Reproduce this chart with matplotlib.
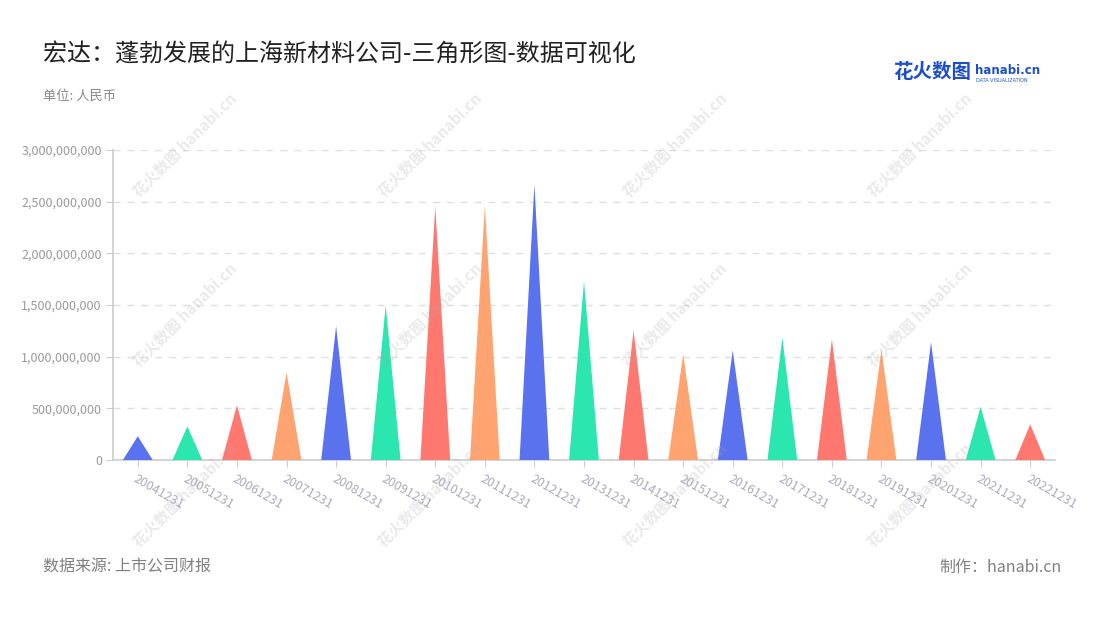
import matplotlib
matplotlib.use('Agg')
import matplotlib.pyplot as plt
from matplotlib.ticker import FuncFormatter
import numpy as np

plt.rcParams['font.family'] = ['Noto Sans CJK SC', 'DejaVu Sans']

# data
years = ['20041231', '20051231', '20061231', '20071231', '20081231', '20091231',
         '20101231', '20111231', '20121231', '20131231', '20141231', '20151231',
         '20161231', '20171231', '20181231', '20191231', '20201231', '20211231',
         '20221231']
values = [0.23e9, 0.325e9, 0.53e9, 0.845e9, 1.295e9, 1.495e9,
          2.455e9, 2.46e9, 2.665e9, 1.73e9, 1.255e9, 1.025e9,
          1.06e9, 1.185e9, 1.17e9, 1.07e9, 1.14e9, 0.515e9,
          0.345e9]
palette = ['#5A72EE', '#2CE6B0', '#FF7870', '#FFA470']

fig = plt.figure(figsize=(11, 6.2), dpi=100)
ax = fig.add_axes([113/1100, 160/620, 942/1100, 310/620])

w = 0.6
for i, v in enumerate(values):
	ax.fill([i - w/2, i, i + w/2], [0, v, 0], color=palette[i % 4], lw=0, zorder=3)

ax.set_xlim(-0.5, len(years) - 0.5)
ax.set_ylim(0, 3e9)
ax.set_yticks(np.arange(0, 3.01e9, 0.5e9))
ax.yaxis.set_major_formatter(FuncFormatter(lambda v, p: '{:,.0f}'.format(v)))
ax.set_xticks(range(len(years)))
ax.set_xticklabels(years, rotation=-30, ha='left', va='top', rotation_mode='anchor')

ax.grid(axis='y', color='#e0e0e0', linestyle=(0, (5, 5)), lw=1)
ax.set_axisbelow(True)
for s in ['top', 'right']:
	ax.spines[s].set_visible(False)
ax.spines['left'].set_color('#cccccc')
ax.spines['bottom'].set_color('#cccccc')
ax.spines['left'].set_linewidth(1.2)
ax.spines['bottom'].set_linewidth(1.2)
ax.tick_params(axis='y', colors='#cccccc', labelcolor='#999999', labelsize=9, length=5, pad=3)
ax.tick_params(axis='x', colors='#cccccc', labelcolor='#aaaabb', labelsize=9, length=5, pad=4)

# watermarks
for wx in [185, 430, 675, 920]:
	for wy in [145, 315, 495]:
		fig.text(wx/1100, 1 - wy/620, '花火数图 hanabi.cn', rotation=45, fontsize=11,
			color='#aaaaaa', alpha=0.25, ha='center', va='center', fontweight='bold', zorder=5)

fig.text(43/1100, 1 - 55/620, '宏达：蓬勃发展的上海新材料公司-三角形图-数据可视化',
	fontsize=17.3, color='#222222', va='center', ha='left')
fig.text(43/1100, 1 - 96/620, '单位: 人民币', fontsize=9.5, color='#888888', va='center', ha='left')
fig.text(43/1100, 1 - 567/620, '数据来源: 上市公司财报', fontsize=11.5, color='#808080', va='center', ha='left')
fig.text(1062/1100, 1 - 567/620, '制作：hanabi.cn', fontsize=11.5, color='#808080', va='center', ha='right')

# logo
fig.text(893/1100, 1 - 73/620, '花火数图', fontsize=14, color='#1F4FC8', fontweight='bold',
	va='center', ha='left')
fig.text(975/1100, 1 - 70/620, 'hanabi.cn', fontsize=8.5, color='#1F4FC8', fontweight='bold',
	va='center', ha='left', family='DejaVu Sans')
fig.text(976/1100, 1 - 80/620, 'DATA VISUALIZATION', fontsize=3.5, color='#1F4FC8',
	va='center', ha='left', family='DejaVu Sans')

fig.savefig('out.png', dpi=100)
